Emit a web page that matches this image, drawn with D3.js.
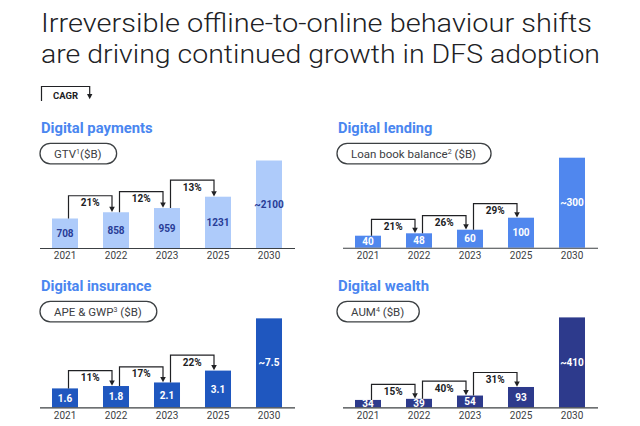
<!DOCTYPE html>
<html>
<head>
<meta charset="utf-8">
<script src="https://cdn.jsdelivr.net/npm/d3@7"></script>
<style>
  html, body { margin: 0; padding: 0; background: #fff; }
  svg { display: block; font-family: Roboto, "Noto Sans", sans-serif; }
</style>
</head>
<body>
<svg id="chart" width="640" height="426"></svg>
<script>
// ---- data ----
const titleLines = ["Irreversible offline-to-online behaviour shifts",
                    "are driving continued growth in DFS adoption"];
const years = ["2021", "2022", "2023", "2025", "2030"];
const paymentsValues  = [708, 858, 959, 1231, 2100];
const lendingValues   = [40, 48, 60, 100, 300];
const insuranceValues = [1.6, 1.8, 2.1, 3.1, 7.5];
const wealthValues    = [34, 39, 54, 93, 410];
const paymentsCagr  = ["21%", "12%", "13%"];
const lendingCagr   = ["21%", "26%", "29%"];
const insuranceCagr = ["11%", "17%", "22%"];
const wealthCagr    = ["15%", "40%", "31%"];
const approxLast = true; // 2030 values are estimates ("~")

// ---- layout / style ----
const panels = [
  { title: "Digital payments", unit: ["GTV", "1", "($B)"], values: paymentsValues, cagr: paymentsCagr,
    color: "#aecbfa", label: "#283c96", x0: 40, bx: 39.5, titleY: 133.3, base: 248, yMax: 2160, tw: 111.6, off: 16.5 },
  { title: "Digital lending", unit: ["Loan book balance", "2", " ($B)"], values: lendingValues, cagr: lendingCagr,
    color: "#5087ee", label: "#ffffff", x0: 337, bx: 342.5, titleY: 133.3, base: 247.7, yMax: 300, tw: 94.3, off: 14 },
  { title: "Digital insurance", unit: ["APE & GWP", "3", " ($B)"], values: insuranceValues, cagr: insuranceCagr,
    color: "#1f57bf", label: "#ffffff", x0: 40, bx: 39.5, titleY: 291.3, base: 407.4, yMax: 7.58, tw: 110.5, off: 15.5 },
  { title: "Digital wealth", unit: ["AUM", "4", " ($B)"], values: wealthValues, cagr: wealthCagr,
    color: "#2d3a8c", label: "#ffffff", x0: 337, bx: 342.5, titleY: 291.3, base: 407.4, yMax: 410, tw: 91, off: 14.5 }
];

const svg = d3.select("#chart");
const ink = "#202124";

// main title
svg.selectAll("text.main").data(titleLines).join("text")
  .attr("class", "main")
  .attr("x", 41).attr("y", (d, i) => 31.7 + i * 31.6)
  .attr("font-size", 25).attr("font-weight", 300).attr("fill", ink)
  .attr("textLength", (d, i) => i === 0 ? 551 : 559)
  .attr("lengthAdjust", "spacingAndGlyphs")
  .text(d => d);

// CAGR legend
const leg = svg.append("g");
leg.append("path")
  .attr("d", "M41.5,101 V86.5 H89.7 V94")
  .attr("fill", "none").attr("stroke", ink).attr("stroke-width", 1.2);
leg.append("path").attr("d", "M87,94 L92.4,94 L89.7,99.3 Z").attr("fill", ink);
leg.append("text").attr("x", 65.5).attr("y", 99.3).attr("text-anchor", "middle")
  .attr("font-size", 9.5).attr("font-weight", 700).attr("fill", ink).text("CAGR");

panels.forEach(p => {
  const g = svg.append("g");
  // panel title
  g.append("text").attr("x", p.x0 + 1).attr("y", p.titleY)
    .attr("font-size", 14.5).attr("font-weight", 700).attr("fill", "#4a86f0")
    .attr("textLength", p.tw).attr("lengthAdjust", "spacingAndGlyphs")
    .text(p.title);

  // unit pill
  const pillTop = p.titleY + 10;
  const pt = g.append("text").attr("x", p.x0 + 14).attr("y", pillTop + 14.3)
    .attr("font-size", 11.5).attr("fill", "#3c4043");
  pt.append("tspan").text(p.unit[0]);
  pt.append("tspan").attr("font-size", 7).attr("dy", -4).text(p.unit[1]);
  pt.append("tspan").attr("dy", 4).text(p.unit[2]);
  const tw = pt.node().getComputedTextLength();
  g.insert("rect", "text")
    .attr("x", p.x0).attr("y", pillTop).attr("width", tw + 29).attr("height", 20.5)
    .attr("rx", 10.25).attr("fill", "none").attr("stroke", "#3c4043").attr("stroke-width", 1.3);

  // scales
  const x = d3.scaleBand().domain(years).range([p.bx, p.bx + 255])
    .paddingInner(0.49).paddingOuter(0.245);
  const y = d3.scaleLinear().domain([0, p.yMax]).range([p.base, p.base - 90]);

  // bars
  g.selectAll("rect.bar").data(p.values).join("rect")
    .attr("class", "bar")
    .attr("x", (d, i) => x(years[i])).attr("width", x.bandwidth())
    .attr("y", d => y(d)).attr("height", d => y(0) - y(d))
    .attr("fill", p.color);

  // value labels
  g.selectAll("text.val").data(p.values).join("text")
    .attr("class", "val")
    .attr("x", (d, i) => x(years[i]) + x.bandwidth() / 2)
    .attr("y", d => (y(d) + y(0)) / 2)
    .attr("dy", "0.36em")
    .attr("text-anchor", "middle").attr("font-size", 10).attr("font-weight", 700)
    .attr("fill", p.label)
    .text((d, i) => (approxLast && i === p.values.length - 1 ? "~" : "") + d);

  // axis
  const ax = g.append("g").attr("transform", `translate(0,${p.base})`)
    .call(d3.axisBottom(x).tickSize(0).tickPadding(4.2));
  ax.select(".domain").attr("stroke", "#3c4043").attr("stroke-width", 1.1);
  ax.selectAll("text").attr("font-size", 10).attr("fill", "#3c4043")
    .attr("font-family", "Roboto, 'Noto Sans', sans-serif");

  // CAGR arrows
  p.cagr.forEach((c, i) => {
    const sx = x(years[i]) + x.bandwidth() / 2 + 3.5;
    const ex = x(years[i + 1]) + x.bandwidth() / 2 - 4;
    const sTop = y(p.values[i]);
    const eTop = y(p.values[i + 1]);
    const ly = eTop - p.off;
    g.append("path")
      .attr("d", `M${sx},${sTop} V${ly} H${ex} V${eTop - 5}`)
      .attr("fill", "none").attr("stroke", ink).attr("stroke-width", 1.2);
    g.append("path")
      .attr("d", `M${ex - 2.8},${eTop - 5.5} L${ex + 2.8},${eTop - 5.5} L${ex},${eTop - 0.3} Z`)
      .attr("fill", ink);
    g.append("text").attr("x", (sx + ex) / 2).attr("y", ly + 10.5)
      .attr("text-anchor", "middle").attr("font-size", 10).attr("font-weight", 700)
      .attr("fill", ink).text(c);
  });
});
</script>
</body>
</html>
